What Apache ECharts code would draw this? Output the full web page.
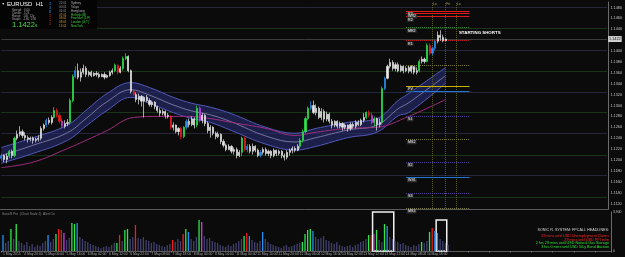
<!DOCTYPE html>
<html>
<head>
<meta charset="utf-8">
<script src="https://cdn.jsdelivr.net/npm/echarts@6/dist/echarts.min.js"></script>
<style>
  html, body { margin: 0; padding: 0; background: #0b0b0b; }
  #chart { width: 625px; height: 257px; }
</style>
</head>
<body>
<div id="chart"></div>
<script>
// EURUSD H1 candles: [open, close, low, high]
const ohlc = [
  [1.1203,1.1208,1.1199,1.1212],[1.1208,1.1201,1.1196,1.1210],[1.1201,1.1207,1.1194,1.1212],[1.1207,1.1216,1.1203,1.1219],[1.1216,1.1208,1.1203,1.1219],
  [1.1208,1.1240,1.1205,1.1243],[1.1240,1.1247,1.1236,1.1254],[1.1247,1.1252,1.1243,1.1262],[1.1252,1.1245,1.1240,1.1256],[1.1245,1.1241,1.1236,1.1251],
  [1.1241,1.1238,1.1232,1.1245],[1.1238,1.1240,1.1234,1.1243],[1.1240,1.1236,1.1230,1.1243],[1.1236,1.1238,1.1232,1.1241],[1.1238,1.1240,1.1234,1.1245],
  [1.1240,1.1258,1.1236,1.1262],[1.1258,1.1264,1.1254,1.1267],[1.1264,1.1273,1.1260,1.1276],[1.1273,1.1269,1.1265,1.1278],[1.1269,1.1278,1.1265,1.1282],
  [1.1278,1.1291,1.1276,1.1297],[1.1291,1.1282,1.1278,1.1295],[1.1282,1.1271,1.1267,1.1286],[1.1271,1.1262,1.1258,1.1276],[1.1262,1.1267,1.1258,1.1273],
  [1.1267,1.1269,1.1262,1.1275],[1.1269,1.1309,1.1265,1.1313],[1.1309,1.1353,1.1306,1.1357],[1.1353,1.1364,1.1350,1.1372],[1.1364,1.1352,1.1348,1.1377],
  [1.1352,1.1361,1.1344,1.1368],[1.1361,1.1368,1.1357,1.1375],[1.1368,1.1357,1.1352,1.1372],[1.1357,1.1361,1.1353,1.1364],[1.1361,1.1355,1.1352,1.1364],
  [1.1355,1.1359,1.1353,1.1361],[1.1359,1.1357,1.1353,1.1363],[1.1357,1.1353,1.1350,1.1361],[1.1353,1.1357,1.1352,1.1359],[1.1357,1.1352,1.1348,1.1361],
  [1.1352,1.1355,1.1350,1.1357],[1.1355,1.1361,1.1353,1.1364],[1.1361,1.1364,1.1357,1.1368],[1.1364,1.1374,1.1361,1.1377],[1.1374,1.1361,1.1357,1.1375],
  [1.1361,1.1368,1.1359,1.1372],[1.1368,1.1386,1.1364,1.1390],[1.1386,1.1390,1.1383,1.1396],[1.1390,1.1364,1.1361,1.1392],[1.1364,1.1326,1.1322,1.1366],
  [1.1326,1.1320,1.1317,1.1330],[1.1320,1.1311,1.1306,1.1324],[1.1311,1.1317,1.1302,1.1322],[1.1317,1.1308,1.1298,1.1319],[1.1308,1.1315,1.1278,1.1317],
  [1.1315,1.1309,1.1306,1.1319],[1.1309,1.1302,1.1298,1.1313],[1.1302,1.1306,1.1297,1.1309],[1.1306,1.1298,1.1293,1.1308],[1.1298,1.1291,1.1287,1.1300],
  [1.1291,1.1286,1.1280,1.1295],[1.1286,1.1289,1.1282,1.1293],[1.1289,1.1282,1.1276,1.1291],[1.1282,1.1280,1.1276,1.1286],[1.1280,1.1260,1.1256,1.1282],
  [1.1260,1.1264,1.1254,1.1269],[1.1264,1.1252,1.1249,1.1265],[1.1252,1.1258,1.1245,1.1260],[1.1258,1.1243,1.1238,1.1260],[1.1243,1.1260,1.1240,1.1262],
  [1.1260,1.1271,1.1256,1.1275],[1.1271,1.1265,1.1260,1.1276],[1.1265,1.1275,1.1262,1.1280],[1.1275,1.1264,1.1258,1.1278],[1.1264,1.1295,1.1260,1.1300],
  [1.1295,1.1273,1.1269,1.1298],[1.1273,1.1282,1.1267,1.1286],[1.1282,1.1267,1.1262,1.1284],[1.1267,1.1254,1.1249,1.1271],[1.1254,1.1260,1.1241,1.1264],
  [1.1260,1.1249,1.1245,1.1262],[1.1249,1.1243,1.1238,1.1252],[1.1243,1.1247,1.1240,1.1252],[1.1247,1.1234,1.1229,1.1249],[1.1234,1.1227,1.1223,1.1238],
  [1.1227,1.1219,1.1216,1.1230],[1.1219,1.1225,1.1218,1.1229],[1.1225,1.1216,1.1212,1.1227],[1.1216,1.1219,1.1210,1.1223],[1.1219,1.1208,1.1203,1.1223],
  [1.1208,1.1214,1.1205,1.1218],[1.1214,1.1240,1.1207,1.1243],[1.1240,1.1219,1.1216,1.1243],[1.1219,1.1225,1.1214,1.1229],[1.1225,1.1216,1.1212,1.1229],
  [1.1216,1.1225,1.1210,1.1230],[1.1225,1.1218,1.1214,1.1227],[1.1218,1.1208,1.1205,1.1221],[1.1208,1.1214,1.1205,1.1218],[1.1214,1.1219,1.1210,1.1223],
  [1.1219,1.1212,1.1208,1.1223],[1.1212,1.1216,1.1207,1.1219],[1.1216,1.1208,1.1203,1.1218],[1.1208,1.1218,1.1205,1.1221],[1.1218,1.1212,1.1207,1.1219],
  [1.1212,1.1216,1.1208,1.1219],[1.1216,1.1208,1.1203,1.1218],[1.1208,1.1205,1.1199,1.1212],[1.1205,1.1214,1.1201,1.1218],[1.1214,1.1218,1.1208,1.1221],
  [1.1218,1.1221,1.1212,1.1225],[1.1221,1.1218,1.1214,1.1225],[1.1218,1.1225,1.1216,1.1229],[1.1225,1.1236,1.1221,1.1240],[1.1236,1.1252,1.1232,1.1256],
  [1.1252,1.1276,1.1249,1.1280],[1.1276,1.1295,1.1273,1.1298],[1.1295,1.1300,1.1291,1.1308],[1.1300,1.1287,1.1284,1.1309],[1.1287,1.1295,1.1282,1.1302],
  [1.1295,1.1278,1.1275,1.1298],[1.1278,1.1289,1.1273,1.1295],[1.1289,1.1275,1.1269,1.1293],[1.1275,1.1284,1.1271,1.1289],[1.1284,1.1271,1.1267,1.1287],
  [1.1271,1.1264,1.1258,1.1275],[1.1264,1.1271,1.1260,1.1273],[1.1271,1.1262,1.1258,1.1273],[1.1262,1.1267,1.1258,1.1271],[1.1267,1.1260,1.1254,1.1269],
  [1.1260,1.1264,1.1256,1.1267],[1.1264,1.1258,1.1252,1.1265],[1.1258,1.1265,1.1254,1.1269],[1.1265,1.1262,1.1258,1.1269],[1.1262,1.1269,1.1258,1.1273],
  [1.1269,1.1265,1.1262,1.1273],[1.1265,1.1273,1.1262,1.1276],[1.1273,1.1278,1.1269,1.1286],[1.1278,1.1287,1.1275,1.1289],[1.1287,1.1282,1.1278,1.1291],
  [1.1282,1.1269,1.1265,1.1287],[1.1269,1.1276,1.1262,1.1280],[1.1276,1.1265,1.1254,1.1278],[1.1265,1.1269,1.1260,1.1276],[1.1269,1.1331,1.1265,1.1335],
  [1.1331,1.1350,1.1328,1.1353],[1.1350,1.1372,1.1348,1.1375],[1.1372,1.1379,1.1368,1.1386],[1.1379,1.1368,1.1364,1.1383],[1.1368,1.1375,1.1363,1.1379],
  [1.1375,1.1364,1.1361,1.1379],[1.1364,1.1372,1.1361,1.1375],[1.1372,1.1364,1.1359,1.1374],[1.1364,1.1368,1.1361,1.1372],[1.1368,1.1363,1.1359,1.1372],
  [1.1363,1.1370,1.1359,1.1374],[1.1370,1.1361,1.1357,1.1372],[1.1361,1.1364,1.1357,1.1370],[1.1364,1.1381,1.1361,1.1385],[1.1381,1.1385,1.1377,1.1390],
  [1.1385,1.1381,1.1377,1.1388],[1.1381,1.1410,1.1379,1.1414],[1.1410,1.1396,1.1392,1.1414],[1.1396,1.1405,1.1392,1.1408],[1.1405,1.1418,1.1401,1.1421],
  [1.1418,1.1429,1.1414,1.1436],[1.1429,1.1425,1.1419,1.1438],[1.1425,1.1419,1.1416,1.1430],[1.1419,1.1422,1.1418,1.1423]
]

// VSA bar type per candle: n normal, g green, r red, b blue, m magenta
const barTypes = [
  'bnngngnnnn', 'nnnnnnnbnn', 'grrmnnggbn', 'nnnnnnnnnn', 'nnngrnggnn',
  'rnnnnnnnnn', 'nnnnrnnnrg', 'bnnngmnnnn', 'nnnnnnnnnn', 'ngrbnnnnbn',
  'nnnnnnnnnn', 'nnnggggbnn', 'nnnnnnnnnn', 'nnnnnnnngr', 'mgnngbnnnn',
  'nnnnnnnngn', 'ngrbbnnnn',
].join('')

// tick volume per candle
const volumes = [
  1600, 800, 1000, 2200, 1200, 2700, 1000, 800, 600, 900,
  500, 700, 400, 600, 500, 800, 1000, 1600, 900, 1200,
  1700, 2200, 2100, 1800, 1100, 1300, 2800, 2700, 2800, 1400,
  1200, 1000, 900, 700, 600, 500, 400, 300, 400, 500,
  400, 600, 800, 800, 1600, 1000, 2100, 2200, 1200, 1400,
  2600, 1300, 1200, 1400, 1100, 1000, 800, 900, 700, 600,
  500, 400, 600, 700, 1100, 900, 1200, 1000, 1700, 2200,
  1900, 1200, 1000, 1400, 3100, 2900, 1500, 1200, 1300, 1000,
  900, 800, 600, 500, 400, 600, 500, 700, 800, 1000,
  1200, 1500, 1800, 1500, 1100, 900, 800, 1000, 1900, 1200,
  900, 700, 600, 500, 400, 300, 500, 600, 400, 500,
  600, 700, 800, 900, 1700, 2100, 2200, 2000, 1400, 1200,
  1300, 1500, 1100, 1000, 800, 700, 900, 600, 500, 400,
  500, 600, 400, 600, 700, 900, 1000, 1200, 1600, 1600,
  1700, 2100, 1100, 900, 2700, 2500, 1400, 1200, 1000, 900,
  700, 800, 600, 500, 400, 600, 500, 700, 900, 800,
  1000, 1900, 2300, 2000, 1800, 1200, 1000, 800, 600,
]

// time labels, one every 8 bars
const tickLabels = [
  '1 May 2015', '4 May 20:00', '5 May 06:00', '5 May 16:00', '6 May 02:00', '6 May 12:00', '6 May 22:00',
  '7 May 08:00', '7 May 18:00', '8 May 04:00', '8 May 14:00', '11 May 00:00', '11 May 10:00', '11 May 20:00',
  '12 May 06:00', '12 May 16:00', '13 May 02:00', '13 May 12:00', '13 May 22:00', '14 May 08:00', '14 May 18:00',
]

// Sonic R dragon band (bar index, high / close / low EMA)
const bandIdx = [0, 12, 25, 32, 40, 49, 56, 65, 72, 79, 87, 100, 111, 119, 131, 142, 150, 154, 168]
const bandUpper = [1.1223, 1.1241, 1.1264, 1.1291, 1.1322, 1.1342, 1.1333, 1.1315, 1.1304, 1.1297, 1.1285, 1.1260, 1.1249, 1.1258, 1.1269, 1.1276, 1.1309, 1.1322, 1.1370]
const bandMid = [1.1208, 1.1227, 1.1250, 1.1276, 1.1307, 1.1329, 1.1319, 1.1301, 1.1290, 1.1283, 1.1270, 1.1244, 1.1233, 1.1241, 1.1255, 1.1264, 1.1294, 1.1305, 1.1355]
const bandLower = [1.1194, 1.1212, 1.1236, 1.1262, 1.1291, 1.1315, 1.1304, 1.1287, 1.1276, 1.1269, 1.1254, 1.1229, 1.1218, 1.1225, 1.1241, 1.1251, 1.1281, 1.1287, 1.1341]

// slow moving average (magenta)
const maIdx = [0, 12, 25, 32, 40, 50, 60, 70, 79, 87, 100, 111, 119, 131, 142, 154, 168]
const maSlow = [1.1186, 1.1196, 1.1221, 1.1236, 1.1254, 1.1278, 1.1280, 1.1280, 1.1276, 1.1269, 1.1258, 1.1245, 1.1251, 1.1258, 1.1260, 1.1280, 1.1311]

// round number levels drawn across the chart
const levelGreen = [1.1442, 1.1363, 1.1287, 1.1209, 1.1132]
const levelGray = [1.1481, 1.1401, 1.1324, 1.1249, 1.1172]

// pivot levels on the right
const pivotNames = ['R3', 'WR2', 'R2', 'MR2', 'R1', 'MR1', 'PV', '', 'MS1', 'S1', 'MS2', 'S2', 'WS1', 'S3', 'MS3']
const pivotLevels = [1.1473, 1.1469, 1.1463, 1.1443, 1.1419, 1.1374, 1.1335, 1.1326, 1.1304, 1.1280, 1.1238, 1.1196, 1.1168, 1.1139, 1.1111]
const pivotKind = ['red', 'red', 'red', 'grnDot', 'redDot', 'oliveDot', 'yellow', 'blue', 'none', 'purpleDot', 'oliveDot', 'purpleDot', 'blue', 'purpleDot', 'oliveDot']
const pivotFrom = 153
const pivotTo = 177

// session markers
const sessionBars = [163, 168, 172]
const sessionTags = ['Lo', 'Fri', 'Lo']

// info panel
const sessionTimes = ['22:01', '00:01', '01:01', '07:01', '08:01', '08:01', '13:01']
const sessionNames = ['Sydney', 'Tokyo', 'Hongkong', 'Helsinki (B)', 'Frankfurt (L,P)', 'London (G,T)', 'NewYork']
const sessionOpen = [0, 0, 0, 1, 1, 1, 1]
const infoRows = ['Spread:   0.00', 'Candle:   1:25', 'Range:   140  12p', 'Swaps:  -1.66  0.36']
const counters = ['3', '3', '8', '1', '1', '1']
const newsLines = [
  'SONIC R. SYSTEM: FPCALL HEADLINES:',
  '29 mins until USD Unemployment Claims',
  '29 mins until USD PPI m/m',
  '2 hrs 29 mins until USD Natural Gas Storage',
  '3 hrs 0 mins until USD 30-y Bond Auction',
]
const newsColor = ['#d8d8d8', '#ff2424', '#ff2424', '#2fe03a', '#2fe03a']

const N_CAT = 230
const cats = Array.from({ length: N_CAT }, (_, i) => String(i))
const lastClose = ohlc[ohlc.length - 1][1]
const FONT = '"Liberation Sans", Arial, sans-serif'

const typeColor = { g: '#2ee54a', r: '#f21b1b', b: '#2a8ff0', m: '#c93ee0' }

const candleData = ohlc.map((d, i) => {
  const t = barTypes[i]
  const up = t === 'n' ? '#e8e8e8' : typeColor[t]
  const dn = t === 'n' ? '#a9a9a9' : typeColor[t]
  return { value: d, itemStyle: { color: up, color0: dn, borderColor: up, borderColor0: dn } }
})

const volData = volumes.map((v, i) => ({
  value: v,
  itemStyle: { color: barTypes[i] === 'n' ? '#40406c' : typeColor[barTypes[i]] },
}))

const pair = (idx, vals) => idx.map((x, k) => [x, vals[k]])
const bandWidth = bandUpper.map((u, k) => +(u - bandLower[k]).toFixed(5))

const pivotStyle = {
  red: { color: '#e01a1a', type: 'solid', width: 1 },
  grnDot: { color: '#2f8a2f', type: 'dotted', width: 1 },
  redDot: { color: '#c81818', type: 'dotted', width: 1 },
  oliveDot: { color: '#7c7c26', type: 'dotted', width: 1 },
  yellow: { color: '#c8b400', type: 'solid', width: 1 },
  blue: { color: '#1e78d8', type: 'solid', width: 1 },
  purpleDot: { color: '#4e42a0', type: 'dotted', width: 1 },
  none: { opacity: 0 },
}

const pivotLines = pivotLevels.map((p, k) => [
  {
    coord: [pivotFrom, p],
    lineStyle: pivotStyle[pivotKind[k]],
    label: {
      show: pivotNames[k] !== '',
      formatter: pivotNames[k],
      position: 'insideStartBottom',
      distance: 1,
      fontSize: 3.6,
      color: '#f0f0f0',
      backgroundColor: '#303030',
      padding: [0, 1],
    },
  },
  { coord: [pivotTo, p] },
])

const sessionLines = sessionBars.map(b => [
  { coord: [b, 1.1488], lineStyle: { color: '#5f5f22', type: 'dotted', width: 1 }, label: { show: false } },
  { coord: [b, 1.1112] },
])

// round-number levels as full-width segments
const levelSeg = (v, color) => [
  { coord: [0, v], lineStyle: { color, type: 'solid', width: 1 }, label: { show: false } },
  { coord: [N_CAT - 1, v] },
]
const levelLines = levelGreen.map(v => levelSeg(v, '#193519'))
  .concat(levelGray.map(v => levelSeg(v, '#25253b')))

const priceLine = [
  {
    coord: [0, lastClose],
    lineStyle: { color: '#3c3c3c', type: 'solid', width: 1 },
    label: { show: false },
  },
  { coord: [N_CAT - 1, lastClose] },
]

const txt = (text, x, y, size, fill, extra) => ({
  type: 'text',
  x,
  y,
  z: 20,
  silent: true,
  style: Object.assign({ text, fill, font: `${size}px ${FONT}` }, extra || {}),
})

const graphics = [
  { type: 'rect', z: 19, silent: true, shape: { x: 0, y: 0, width: 97, height: 29 }, style: { fill: '#040404' } },
  txt('\u25BC', 1.5, 2.5, 3.5, '#dddddd'),
  txt('EURUSD  H1', 7, 1.5, 6, '#ffffff'),
  txt('1.1422', 12, 20.5, 7.5, '#3fe43f'),
  txt('8', 35, 24, 4, '#3fe43f'),
  txt('SonicR Pro  (Chart Scale 2)  Alert On', 2, 213, 3.2, '#8a8a8a'),
]
infoRows.forEach((t, k) => graphics.push(txt(t, 12, 8.5 + k * 3.2, 2.8, '#a8a8a8')))
counters.forEach((t, k) => graphics.push(txt(t, 49, 2 + k * 4, 3.6, k < 3 ? '#3399ff' : '#ff3030')))
sessionTimes.forEach((t, k) => graphics.push(txt(t, 59, 1.5 + k * 3.9, 3, sessionOpen[k] ? '#d39a3c' : '#9a9a9a')))
sessionNames.forEach((t, k) => graphics.push(txt(t, 71, 1.5 + k * 3.9, 3, sessionOpen[k] ? '#3ed33e' : '#b0b0b0')))
newsLines.forEach((t, k) => graphics.push(txt(t, 609, [230, 236, 239.5, 243.3, 247][k], 3.7, newsColor[k], { align: 'right', verticalAlign: 'middle' })))

const chart = echarts.init(document.getElementById('chart'))

chart.setOption({
  backgroundColor: '#0b0b0b',
  animation: false,
  textStyle: { fontFamily: FONT },
  grid: [
    { left: 0, right: 14, top: 2, height: 207 },
    { left: 0, right: 14, top: 212, height: 39 },
  ],
  xAxis: [
    {
      type: 'category',
      gridIndex: 0,
      data: cats,
      axisLine: { lineStyle: { color: '#5a5a5a' } },
      axisTick: { show: false },
      axisLabel: { show: false },
      splitLine: { show: false },
    },
    {
      type: 'category',
      gridIndex: 1,
      data: cats,
      axisLine: { lineStyle: { color: '#5a5a5a' } },
      axisTick: { show: true, interval: 7, length: 1.5, lineStyle: { color: '#777' } },
      axisLabel: {
        interval: 7,
        formatter: (v, i) => tickLabels[i / 8] || '',
        align: 'left',
        fontSize: 3.4,
        color: '#a8a8a8',
        margin: 1.5,
      },
    },
  ],
  yAxis: [
    {
      type: 'value',
      gridIndex: 0,
      position: 'right',
      min: 1.1110,
      max: 1.1490,
      interval: 0.001,
      axisLine: { show: true, lineStyle: { color: '#6a6a6a' } },
      axisTick: { show: false },
      splitLine: { show: false },
      axisLabel: {
        fontSize: 3.8,
        color: '#c4c4c4',
        margin: 2,
        formatter: v => {
          const k = Math.round(v * 10000)
          return k % 20 === 0 && Math.abs(v - lastClose) > 0.0008 ? v.toFixed(4) : ''
        },
      },
    },
    {
      type: 'value',
      gridIndex: 1,
      position: 'right',
      min: 0,
      max: 3900,
      interval: 3900,
      axisLine: { show: true, lineStyle: { color: '#6a6a6a' } },
      axisTick: { show: false },
      splitLine: { show: false },
      axisLabel: { fontSize: 3.4, color: '#c4c4c4', margin: 2 },
    },
  ],
  series: [
    {
      type: 'line',
      data: pair(bandIdx, bandLower),
      stack: 'band',
      smooth: 0.4,
      symbol: 'none',
      lineStyle: { color: '#5158b8', width: 1 },
      z: 2,
      markLine: { silent: true, symbol: ['none', 'none'], z: 1, data: levelLines },
    },
    {
      type: 'line',
      data: pair(bandIdx, bandWidth),
      stack: 'band',
      smooth: 0.4,
      symbol: 'none',
      lineStyle: { color: '#5158b8', width: 1 },
      areaStyle: { color: 'rgba(40,44,112,0.92)' },
      z: 2,
    },
    {
      type: 'line',
      data: pair(bandIdx, bandMid),
      smooth: 0.4,
      symbol: 'none',
      lineStyle: { color: '#8c8cae', width: 0.8 },
      z: 3,
    },
    {
      type: 'line',
      data: pair(maIdx, maSlow),
      smooth: 0.4,
      symbol: 'none',
      lineStyle: { color: '#9c2c7c', width: 1 },
      z: 3,
    },
    {
      type: 'candlestick',
      data: candleData,
      barWidth: 1.6,
      itemStyle: { borderWidth: 0.7 },
      z: 5,
      markLine: {
        silent: true,
        symbol: ['none', 'none'],
        data: [priceLine, ...sessionLines, ...pivotLines],
      },
      markPoint: {
        silent: true,
        symbol: 'circle',
        symbolSize: 0,
        data: [
          {
            coord: [173, 1.1433],
            label: { show: true, position: 'right', distance: 0, formatter: 'STARTING SHORTS', color: '#ffffff', fontWeight: 'bold', fontSize: 4.4 },
          },
          {
            coord: [N_CAT - 1, lastClose],
            label: {
              show: true, position: 'right', distance: 1, formatter: lastClose.toFixed(4),
              backgroundColor: '#d0d0d0', color: '#111', fontSize: 3.8, padding: [1, 1],
            },
          },
          ...sessionBars.map((b, k) => ({
            coord: [b, 1.1487],
            label: { show: true, position: 'right', distance: 0.5, formatter: sessionTags[k], color: '#a8a860', fontSize: 3.4 },
          })),
        ],
      },
    },
    {
      type: 'bar',
      xAxisIndex: 1,
      yAxisIndex: 1,
      data: volData,
      barWidth: 1.3,
      markArea: {
        silent: true,
        itemStyle: { color: 'rgba(0,0,0,0)', borderColor: '#f2f2f2', borderWidth: 1.5 },
        data: [
          [{ coord: [143, 3900] }, { coord: [147, 0] }],
          [{ coord: [161, 3100] }, { coord: [167, 0] }],
        ],
      },
    },
  ],
  graphic: graphics,
})
</script>
</body>
</html>
